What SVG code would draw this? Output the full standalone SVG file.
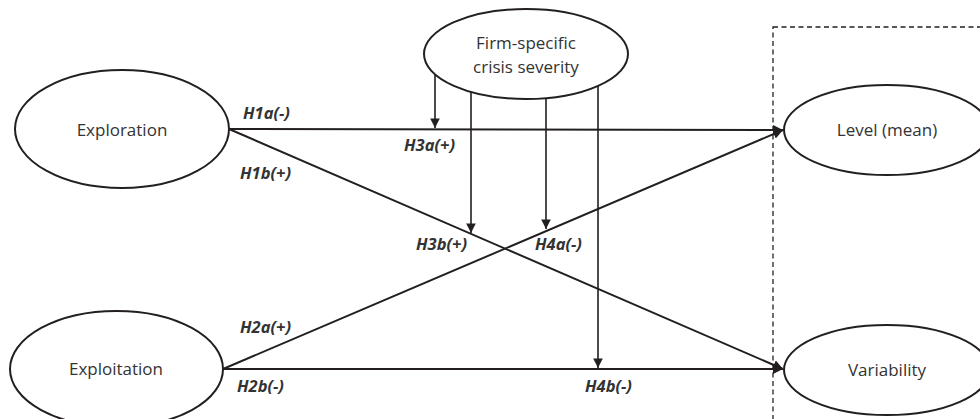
<svg xmlns="http://www.w3.org/2000/svg" width="980" height="419" viewBox="0 0 980 419">
<style>
.node{fill:#fff;stroke:#231f20;stroke-width:2}
.nt{font-family:"Open Sans","Liberation Sans",sans-serif;font-size:17px;fill:#333;text-anchor:middle}
.lbl{font-family:"Open Sans","Liberation Sans",sans-serif;font-size:16.5px;font-weight:bold;font-style:italic;fill:#333}
.ln{stroke:#231f20;stroke-width:2;fill:none}
.mod{stroke:#231f20;stroke-width:1.6;fill:none}
</style>
<defs>
<marker id="ah" viewBox="0 0 10 10" refX="10" refY="5" markerWidth="5" markerHeight="5" orient="auto" markerUnits="strokeWidth">
<path d="M0,0L10,5L0,10z" fill="#231f20"/>
</marker>
<marker id="ahs" viewBox="0 0 10 10" refX="10" refY="5" markerWidth="6" markerHeight="6" orient="auto" markerUnits="strokeWidth">
<path d="M0,0L10,5L0,10z" fill="#231f20"/>
</marker>
</defs>
<rect x="773" y="27" width="220" height="410" fill="none" stroke="#231f20" stroke-width="1.3" stroke-dasharray="5,3.5"/>
<g id="connectors">
<line class="ln" x1="229" y1="129" x2="783" y2="130" marker-end="url(#ah)"/>
<line class="ln" x1="229" y1="129" x2="783" y2="369" marker-end="url(#ah)"/>
<line class="ln" x1="223" y1="369" x2="783" y2="130" marker-end="url(#ah)"/>
<line class="ln" x1="223" y1="369" x2="783" y2="369" marker-end="url(#ah)"/>
<line class="mod" x1="435" y1="74" x2="435" y2="128" marker-end="url(#ahs)"/>
<line class="mod" x1="471" y1="92" x2="471" y2="233" marker-end="url(#ahs)"/>
<line class="mod" x1="546" y1="98" x2="546" y2="229" marker-end="url(#ahs)"/>
<line class="mod" x1="598" y1="86" x2="598" y2="368" marker-end="url(#ahs)"/>
<text class="lbl" x="243" y="119">H1a(-)</text>
<text class="lbl" x="404" y="151">H3a(+)</text>
<text class="lbl" x="240" y="179">H1b(+)</text>
<text class="lbl" x="416" y="250">H3b(+)</text>
<text class="lbl" x="535" y="250">H4a(-)</text>
<text class="lbl" x="240" y="333">H2a(+)</text>
<text class="lbl" x="237" y="392">H2b(-)</text>
<text class="lbl" x="585" y="392">H4b(-)</text>
</g>
<g id="crisis">
<ellipse class="node" cx="526" cy="54" rx="102" ry="45"/>
<text class="nt" x="526" y="49">Firm-specific</text>
<text class="nt" x="526" y="73">crisis severity</text>
</g>
<g id="exploration">
<ellipse class="node" cx="122" cy="129" rx="107" ry="59"/>
<text class="nt" x="122" y="136">Exploration</text>
</g>
<g id="exploitation">
<ellipse class="node" cx="116.5" cy="369" rx="106.5" ry="58"/>
<text class="nt" x="116" y="375">Exploitation</text>
</g>
<g id="level">
<ellipse class="node" cx="887" cy="130" rx="103" ry="45"/>
<text class="nt" x="887" y="136">Level (mean)</text>
</g>
<g id="variability">
<ellipse class="node" cx="887" cy="370" rx="103" ry="45"/>
<text class="nt" x="887" y="376">Variability</text>
</g>
</svg>
